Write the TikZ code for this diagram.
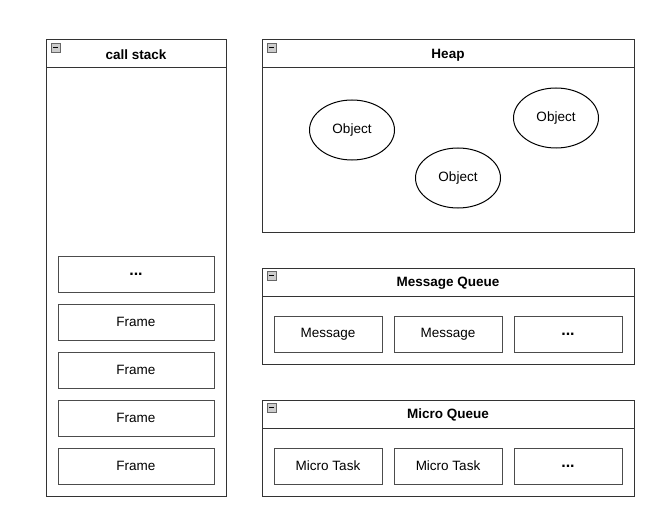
\documentclass[tikz,border=0pt]{standalone}
\usepackage{fontspec}
\setmainfont{Liberation Sans}
\usetikzlibrary{shapes.geometric}
\begin{document}
\begin{tikzpicture}[x=1pt,y=-1pt,
  frameline/.style={draw=black!80,line width=1pt},
  container/.style={frameline,fill=white},
  item/.style={draw=black!70,line width=1pt,minimum width=156pt,minimum height=36pt,inner sep=0pt,font=\fontsize{13.5}{15}\selectfont},
  qitem/.style={item,minimum width=108pt},
  obj/.style={ellipse,draw=black,line width=1pt,minimum width=85pt,minimum height=60pt,inner sep=0pt,font=\fontsize{13.5}{15}\selectfont},
  title/.style={font=\bfseries\fontsize{13.5}{15}\selectfont},
  dots/.style={font=\bfseries\fontsize{16}{16}\selectfont}
]
\useasboundingbox (0,0) rectangle (656,524);
\fill[white] (0,0) rectangle (656,524);
\newcommand{\collapse}[2]{%
  \draw[black!60,fill=black!20,line width=0.5pt] (#1,#2) rectangle ++(9,9);
  \draw[black,line width=1pt] (#1+2,#2+4.5) -- ++(5,0);}
% call stack
\draw[container] (46,40) rectangle (226,496);
\draw[frameline] (46,68) -- (226,68);
\collapse{51}{43}
\node[title] (cs) at (136,55) {call stack};
\node[item,dots] (f0) at (136,274) {...};
\node[item] (f1) at (136,322) {Frame};
\node[item] (f2) at (136,370) {Frame};
\node[item] (f3) at (136,418) {Frame};
\node[item] (f4) at (136,466) {Frame};
% heap
\draw[container] (262,40) rectangle (634,232);
\draw[frameline] (262,68) -- (634,68);
\collapse{267}{43}
\node[title] (heap) at (448,55) {Heap};
\node[obj] (o1) at (352,130) {Object};
\node[obj] (o2) at (556,118) {Object};
\node[obj] (o3) at (458,178) {Object};
% message queue
\draw[container] (262,268) rectangle (634,364);
\draw[frameline] (262,296) -- (634,296);
\collapse{267}{271}
\node[title] (mq) at (448,283) {Message Queue};
\node[qitem] (m1) at (328,334) {Message};
\node[qitem] (m2) at (448,334) {Message};
\node[qitem,dots] (m3) at (568,334) {...};
% micro queue
\draw[container] (262,400) rectangle (634,496);
\draw[frameline] (262,428) -- (634,428);
\collapse{267}{403}
\node[title] (mic) at (448,415) {Micro Queue};
\node[qitem] (t1) at (328,466) {Micro Task};
\node[qitem] (t2) at (448,466) {Micro Task};
\node[qitem,dots] (t3) at (568,466) {...};
\end{tikzpicture}
\end{document}
